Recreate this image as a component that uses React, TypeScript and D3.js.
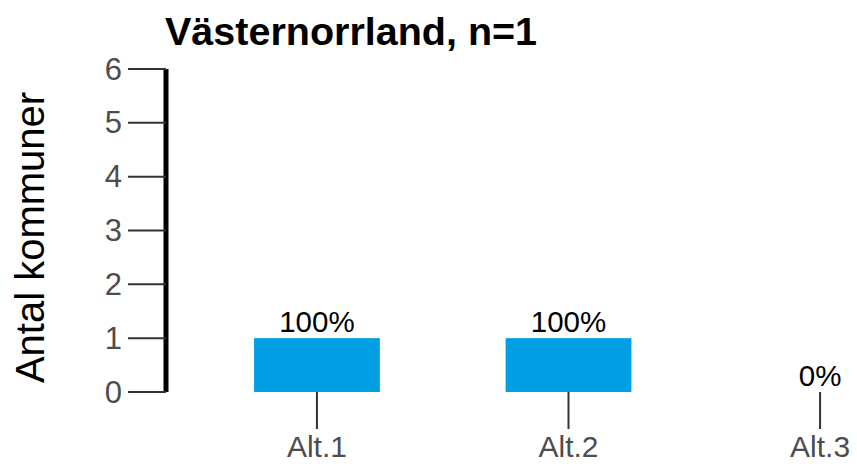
import { useMemo } from 'react';
import * as d3 from 'd3';

const WIDTH = 857;
const HEIGHT = 464;

const TITLE = 'Västernorrland, n=1';
const Y_LABEL = 'Antal kommuner';

const categories = ['Alt.1', 'Alt.2', 'Alt.3'];
const counts = [1, 1, 0];
const percentLabels = ['100%', '100%', '0%'];
const yTicks = [0, 1, 2, 3, 4, 5, 6];

const BAR_COLOR = '#009FE3';
const TEXT_GREY = '#4D4D4D';
const TICK_GREY = '#333333';
const FONT = '"Liberation Sans", Arial, sans-serif';

const PANEL = { left: 166, right: 971, top: 69, bottom: 392 };

export default function App() {
  const xScale = useMemo(
    () =>
      d3
        .scaleBand<string>()
        .domain(categories)
        .range([PANEL.left, PANEL.right])
        .paddingInner(0.5)
        .paddingOuter(0.35),
    []
  );

  const yScale = useMemo(
    () => d3.scaleLinear().domain([0, 6]).range([PANEL.bottom, PANEL.top]),
    []
  );

  const bw = xScale.bandwidth();

  return (
    <svg
      width={WIDTH}
      height={HEIGHT}
      style={{ position: 'absolute', left: 0, top: 0, background: '#fff' }}
      fontFamily={FONT}
    >
      {/* title */}
      <text x={165} y={45} fontSize={39.5} fontWeight="bold" fill="#000">
        {TITLE}
      </text>

      {/* y axis label */}
      <text
        transform={`translate(44,${(PANEL.top + PANEL.bottom) / 2 + 7}) rotate(-90)`}
        textAnchor="middle"
        fontSize={40}
        fill="#000"
      >
        {Y_LABEL}
      </text>

      {/* bars */}
      {categories.map((c, i) => (
        <g key={c}>
          {counts[i] > 0 && (
            <rect
              x={xScale(c)!}
              y={yScale(counts[i])}
              width={bw}
              height={yScale(0) - yScale(counts[i])}
              fill={BAR_COLOR}
            />
          )}
          <text
            x={xScale(c)! + bw / 2}
            y={yScale(counts[i]) - 6}
            textAnchor="middle"
            fontSize={29.5}
            fill="#000"
          >
            {percentLabels[i]}
          </text>
        </g>
      ))}

      {/* y axis */}
      <line
        x1={PANEL.left}
        x2={PANEL.left}
        y1={yScale(6)}
        y2={yScale(0)}
        stroke="#000"
        strokeWidth={5}
      />
      {yTicks.map((t) => (
        <g key={t} transform={`translate(0,${yScale(t)})`}>
          <line x1={128} x2={PANEL.left} stroke={TICK_GREY} strokeWidth={2} />
          <text
            x={122}
            textAnchor="end"
            dominantBaseline="central"
            fontSize={31}
            fill={TEXT_GREY}
          >
            {t}
          </text>
        </g>
      ))}

      {/* x axis ticks */}
      {categories.map((c) => {
        const cx = xScale(c)! + bw / 2;
        return (
          <g key={c} transform={`translate(${cx},0)`}>
            <line y1={PANEL.bottom} y2={429} stroke={TICK_GREY} strokeWidth={2} />
            <text y={457} textAnchor="middle" fontSize={30} fill={TEXT_GREY}>
              {c}
            </text>
          </g>
        );
      })}
    </svg>
  );
}
